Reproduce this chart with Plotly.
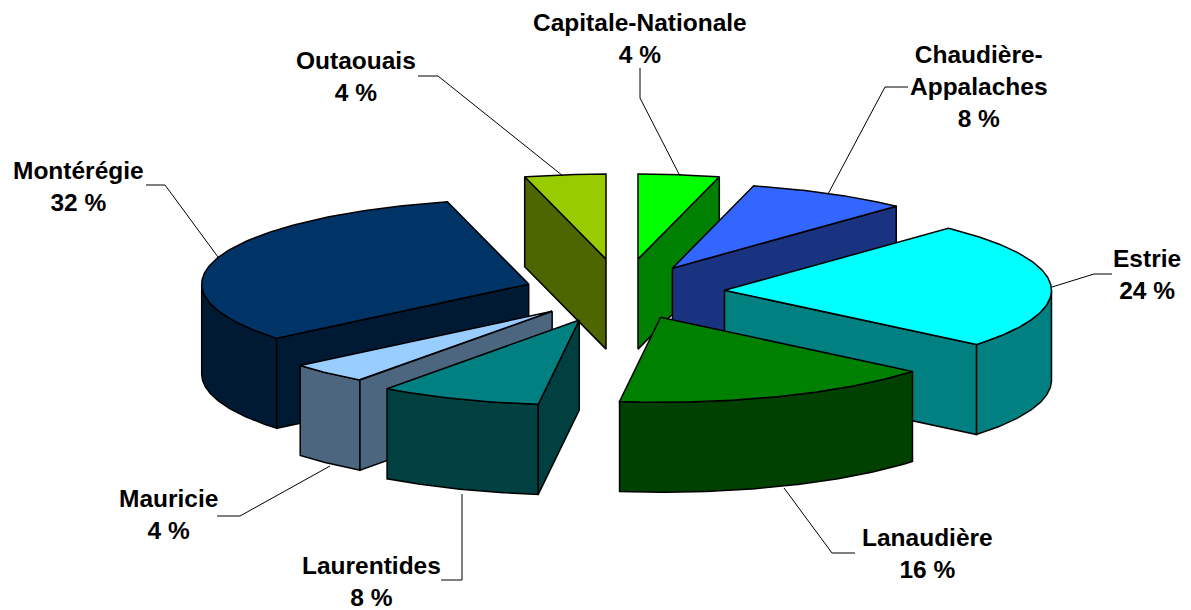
import numpy as np
import plotly.graph_objects as go

regions = ["Capitale-Nationale", "Chaudière-Appalaches", "Estrie", "Lanaudière",
           "Laurentides", "Mauricie", "Montérégie", "Outaouais"]
shares = [4, 8, 24, 16, 8, 4, 32, 4]
pulls = [0.39, 0.32, 0.314, 0.32, 0.355, 0.312, 0.30, 0.39]
top_colors = ["#00FF00", "#3366FF", "#00FFFF", "#008000", "#008080", "#99CCFF", "#003366", "#99CC00"]
wall_colors = ["#008000", "#1A3380", "#008080", "#004000", "#004040", "#4D6680", "#001A33", "#4D6600"]
# back-to-front painting order (indices into regions)
paint_order = [0, 7, 1, 2, 6, 3, 5, 4]

CX, CY, RX, RY, DEPTH = 622, 292, 327, 85, 90
LINE = dict(color="black", width=1.5)

fig = go.Figure()

def face(xs, ys, color):
    fig.add_trace(go.Scatter(x=list(xs) + [xs[0]], y=list(ys) + [ys[0]], mode="lines",
                             fill="toself", fillcolor=color, line=LINE,
                             hoverinfo="skip", showlegend=False))

total = sum(shares)
edges = np.concatenate([[0], np.cumsum(shares)]) / total * 2 * np.pi

for i in paint_order:
    a0, a1 = edges[i], edges[i + 1]
    mid = (a0 + a1) / 2
    ax = CX + pulls[i] * RX * np.sin(mid)
    ay = CY - pulls[i] * RY * np.cos(mid)
    px = lambda t: ax + RX * np.sin(t)
    py = lambda t: ay - RY * np.cos(t)

    # outer curved wall: the part of the arc facing the viewer
    lo, hi = max(a0, np.pi / 2), min(a1, 3 * np.pi / 2)
    if hi > lo:
        t = np.linspace(lo, hi, 80)
        xs = np.concatenate([px(t), px(t)[::-1]])
        ys = np.concatenate([py(t), py(t)[::-1] + DEPTH])
        face(xs, ys, wall_colors[i])
    # flat cut faces, when turned towards the viewer
    if np.sin(a0) < 0:
        face([ax, px(a0), px(a0), ax], [ay, py(a0), py(a0) + DEPTH, ay + DEPTH], wall_colors[i])
    if np.sin(a1) > 0:
        face([ax, px(a1), px(a1), ax], [ay, py(a1), py(a1) + DEPTH, ay + DEPTH], wall_colors[i])
    # top
    t = np.linspace(a0, a1, 120)
    face(np.concatenate([[ax], px(t)]), np.concatenate([[ay], py(t)]), top_colors[i])

label_text = ["Capitale-Nationale<br>4 %", "Chaudière-<br>Appalaches<br>8 %", "Estrie<br>24 %",
              "Lanaudière<br>16 %", "Laurentides<br>8 %", "Mauricie<br>4 %",
              "Montérégie<br>32 %", "Outaouais<br>4 %"]
label_x = [640, 979, 1147, 927, 371, 168, 78, 356]
label_y = [38, 86, 274, 553, 581, 514, 186, 76]
leaders = [
    [(640, 68), (640, 98), (680, 176)],
    [(908, 87), (885, 87), (828, 194)],
    [(1112, 274), (1094, 274), (1052, 287)],
    [(855, 553), (832, 553), (784, 488)],
    [(441, 580), (462, 580), (462, 494)],
    [(217, 516), (240, 516), (330, 466)],
    [(146, 185), (165, 185), (218, 257)],
    [(418, 76), (438, 76), (563, 176)],
]

for n in range(len(regions)):
    fig.add_annotation(x=label_x[n], y=label_y[n], text=f"<b>{label_text[n]}</b>", showarrow=False,
                       font=dict(family="Liberation Sans, Arial, sans-serif", size=24.5, color="black"),
                       align="center", xanchor="center", yanchor="middle")

for pts in leaders:
    path = "M " + " L ".join(f"{x} {y}" for x, y in pts)
    fig.add_shape(type="path", path=path, line=dict(color="black", width=1), layer="above")

fig.update_layout(width=1191, height=610, margin=dict(l=0, r=0, t=0, b=0),
                  paper_bgcolor="white", plot_bgcolor="white", showlegend=False,
                  xaxis=dict(range=[0, 1191], visible=False, fixedrange=True),
                  yaxis=dict(range=[610, 0], visible=False, fixedrange=True))

fig.write_html("out.html", config=dict(displayModeBar=False),
               post_script="document.body.style.margin='0';")
